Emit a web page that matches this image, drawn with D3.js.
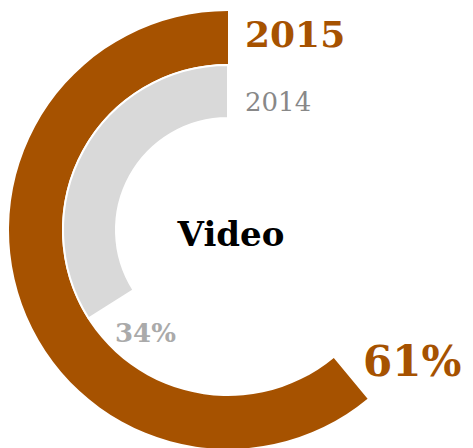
<!DOCTYPE html>
<html>
<head>
<meta charset="utf-8">
<script src="https://cdn.jsdelivr.net/npm/d3@7"></script>
<style>
  body { margin: 0; background: #fff; }
  text { font-family: Georgia, 'DejaVu Serif', serif; }
</style>
</head>
<body>
<div id="container"></div>
<script>
const years = ['2015', '2014'];
const shares = [0.61, 0.34];
const colors = ['#a65200', '#d9d9d9'];
const labelColors = ['#a65200', '#aaaaaa'];
const yearColors = ['#a65200', '#888888'];
const title = 'Video';

const svgWidth = 473;
const svgHeight = 448;
const cx = 228;
const cy = 230;

// rings: outer for 2015, inner for 2014
const rings = [
  { inner: 166, outer: 219 },
  { inner: 112, outer: 165 }
];

const svg = d3
  .select('#container')
  .append('svg')
  .attr('width', svgWidth)
  .attr('height', svgHeight);

const g = svg.append('g').attr('transform', `translate(${cx},${cy})`);

// share -> angle, counter-clockwise from 12 o'clock
const angle = d3.scaleLinear().domain([0, 1]).range([0, -2 * Math.PI]);

const arc = d3.arc();

g.selectAll('path')
  .data(shares)
  .enter()
  .append('path')
  .attr('d', (d, i) =>
    arc({
      innerRadius: rings[i].inner,
      outerRadius: rings[i].outer,
      startAngle: 0,
      endAngle: angle(d)
    })
  )
  .attr('fill', (d, i) => colors[i])
  .attr('stroke', (d, i) => (i === 1 ? '#fff' : 'none'))
  .attr('stroke-width', 2);

// year labels
const yearStyle = [
  { size: 36, weight: 'bold', y: 47 },
  { size: 26, weight: 'normal', y: 111 }
];

svg.selectAll('text.year')
  .data(years)
  .enter()
  .append('text')
  .attr('class', 'year')
  .attr('x', cx + 17)
  .attr('y', (d, i) => yearStyle[i].y)
  .attr('font-size', (d, i) => yearStyle[i].size)
  .attr('font-weight', (d, i) => yearStyle[i].weight)
  .attr('fill', (d, i) => yearColors[i])
  .text(d => d);

// percentage labels
const pctStyle = [
  { size: 42, x: 363, y: 376 },
  { size: 26, x: 115, y: 342 }
];

svg.selectAll('text.pct')
  .data(shares)
  .enter()
  .append('text')
  .attr('class', 'pct')
  .attr('x', (d, i) => pctStyle[i].x)
  .attr('y', (d, i) => pctStyle[i].y)
  .attr('font-size', (d, i) => pctStyle[i].size)
  .attr('font-weight', 'bold')
  .attr('fill', (d, i) => labelColors[i])
  .text(d => `${Math.round(d * 100)}%`);

// centre title
svg.append('text')
  .attr('x', cx + 3)
  .attr('y', 246)
  .attr('text-anchor', 'middle')
  .attr('font-size', 34)
  .attr('font-weight', 'bold')
  .attr('fill', '#000')
  .text(title);
</script>
</body>
</html>
